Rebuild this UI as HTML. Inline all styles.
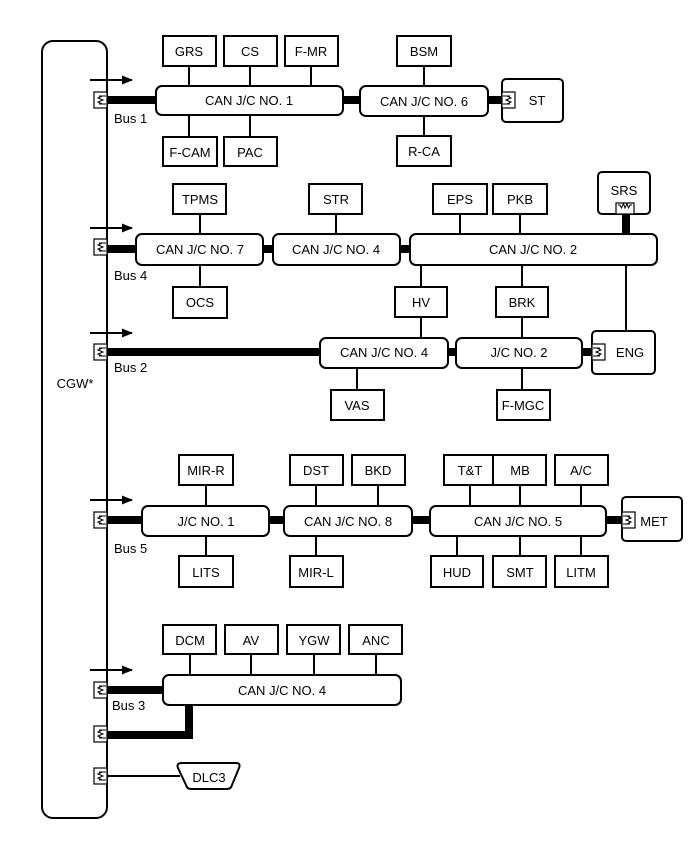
<!DOCTYPE html>
<html><head><meta charset="utf-8"><style>
html,body{margin:0;padding:0;background:#fff;width:688px;height:852px;overflow:hidden}
text{font-family:"Liberation Sans",Arial,sans-serif;font-size:13px;fill:#000}
</style></head><body>
<svg width="688" height="852" viewBox="0 0 688 852" xmlns="http://www.w3.org/2000/svg">
<defs>
<g id="res"><rect x="0" y="-8" width="13" height="16" fill="#fff" stroke="#000" stroke-width="1.2"/><path d="M12,-4 L5,-4 M8,-4 L4,-2 L9,0 L4,2 L8,4 M12,4 L5,4" fill="none" stroke="#000" stroke-width="1"/></g>
<marker id="ah" markerWidth="11" markerHeight="9" refX="10" refY="4.5" orient="auto" markerUnits="userSpaceOnUse"><path d="M0,0 L11,4.5 L0,9 z" fill="#000"/></marker>
</defs>
<g fill="none" stroke="#000" stroke-width="2">
<rect x="42" y="41" width="65" height="777" rx="11"/>
<g stroke-width="2">
<path d="M189,66V86 M250,66V86 M311,66V86 M189,115V137 M250,115V137 M424,66V86 M424,116V136"/>
<path d="M200,214V234 M336,214V234 M200,265V287 M460,214V235 M520,214V235 M421,265V338 M522,265V338 M626,265V332 M357,368V390 M522,368V390"/>
<path d="M206,485V506 M206,536V556 M316,485V506 M378,485V506 M316,536V556 M470,485V506 M520,485V506 M581,485V506 M457,536V556 M520,536V556 M581,536V556"/>
<path d="M190,654V675 M251,654V675 M314,654V675 M376,654V675"/>
<path d="M107,776H180"/>
</g>
<g stroke-width="8">
<path d="M107,100H156 M343,100H360 M488,100H502"/>
<path d="M107,249H136 M263,249H273 M400,249H410 M626,214V235"/>
<path d="M107,352H320 M448,352H456 M582,352H592"/>
<path d="M107,520H142 M269,520H284 M412,520H430 M606,520H622"/>
<path d="M107,690H163 M107,735H189V705"/>
</g>
<g stroke-width="2">
<path d="M90,80H132" marker-end="url(#ah)"/>
<path d="M90,228H132" marker-end="url(#ah)"/>
<path d="M90,333H132" marker-end="url(#ah)"/>
<path d="M90,500H132" marker-end="url(#ah)"/>
<path d="M90,670H132" marker-end="url(#ah)"/>
</g>
<g fill="#fff">
<rect x="156" y="86" width="187" height="29" rx="6"/>
<rect x="360" y="86" width="128" height="30" rx="6"/>
<rect x="136" y="234" width="127" height="31" rx="6"/>
<rect x="273" y="234" width="127" height="31" rx="6"/>
<rect x="410" y="234" width="247" height="31" rx="6"/>
<rect x="320" y="338" width="128" height="30" rx="6"/>
<rect x="456" y="338" width="126" height="30" rx="6"/>
<rect x="142" y="506" width="127" height="30" rx="6"/>
<rect x="284" y="506" width="128" height="30" rx="6"/>
<rect x="430" y="506" width="176" height="30" rx="6"/>
<rect x="163" y="675" width="238" height="30" rx="6"/>
<rect x="163" y="36" width="53" height="30"/><rect x="224" y="36" width="53" height="30"/><rect x="285" y="36" width="53" height="30"/>
<rect x="163" y="137" width="54" height="29"/><rect x="224" y="137" width="53" height="29"/>
<rect x="397" y="36" width="54" height="30"/><rect x="397" y="136" width="54" height="30"/>
<rect x="502" y="79" width="61" height="43" rx="4"/>
<rect x="173" y="184" width="53" height="30"/><rect x="309" y="184" width="53" height="30"/>
<rect x="433" y="184" width="54" height="30"/><rect x="493" y="184" width="54" height="30"/>
<rect x="598" y="172" width="52" height="42" rx="4"/>
<rect x="173" y="287" width="54" height="31"/>
<rect x="395" y="287" width="52" height="30"/><rect x="496" y="287" width="52" height="30"/>
<rect x="592" y="331" width="63" height="43" rx="4"/>
<rect x="331" y="390" width="53" height="30"/><rect x="497" y="390" width="53" height="30"/>
<rect x="179" y="455" width="54" height="30"/><rect x="290" y="455" width="53" height="30"/><rect x="352" y="455" width="53" height="30"/>
<rect x="444" y="455" width="52" height="30"/><rect x="493" y="455" width="53" height="30"/><rect x="555" y="455" width="53" height="30"/>
<rect x="179" y="556" width="54" height="31"/><rect x="290" y="556" width="53" height="31"/>
<rect x="431" y="556" width="52" height="31"/><rect x="493" y="556" width="53" height="31"/><rect x="555" y="556" width="53" height="31"/>
<rect x="622" y="497" width="60" height="44" rx="4"/>
<rect x="163" y="625" width="53" height="29"/><rect x="225" y="625" width="53" height="29"/><rect x="287" y="625" width="53" height="29"/><rect x="349" y="625" width="53" height="29"/>
<path d="M182,763H236Q241,763 239,768L232,785Q231,789 227,789H191Q187,789 186,785L178,768Q176,763 182,763Z"/>
</g>
</g>
<use href="#res" x="94" y="100"/>
<use href="#res" x="94" y="247"/>
<use href="#res" x="94" y="352"/>
<use href="#res" x="94" y="520"/>
<use href="#res" x="94" y="690"/>
<use href="#res" x="94" y="734"/>
<use href="#res" x="94" y="776"/>
<g transform="translate(515,100) scale(-1,1)"><use href="#res"/></g>
<g transform="translate(605,352) scale(-1,1)"><use href="#res"/></g>
<g transform="translate(635,520) scale(-1,1)"><use href="#res"/></g>
<rect x="616" y="203" width="18" height="11" fill="#fff" stroke="#000" stroke-width="1.2"/>
<path d="M618,205 L620,205 L621.5,208 L623.5,203.5 L625,208 L627,203.5 L628.5,208 L630,205 L632,205" fill="none" stroke="#000" stroke-width="1"/>
<g text-anchor="middle">
<text x="249" y="105">CAN J/C NO. 1</text><text x="424" y="106">CAN J/C NO. 6</text>
<text x="189" y="56">GRS</text><text x="250" y="56">CS</text><text x="311" y="56">F-MR</text>
<text x="190" y="157">F-CAM</text><text x="250" y="157">PAC</text>
<text x="424" y="56">BSM</text><text x="424" y="156">R-CA</text>
<text x="537" y="105">ST</text>
<text x="200" y="254">CAN J/C NO. 7</text><text x="336" y="254">CAN J/C NO. 4</text><text x="533" y="254">CAN J/C NO. 2</text>
<text x="200" y="204">TPMS</text><text x="336" y="204">STR</text><text x="460" y="204">EPS</text><text x="520" y="204">PKB</text>
<text x="624" y="195">SRS</text>
<text x="200" y="307">OCS</text><text x="421" y="307">HV</text><text x="522" y="307">BRK</text>
<text x="384" y="357">CAN J/C NO. 4</text><text x="519" y="357">J/C NO. 2</text><text x="630" y="357">ENG</text>
<text x="357" y="410">VAS</text><text x="523" y="410">F-MGC</text>
<text x="206" y="475">MIR-R</text><text x="316" y="475">DST</text><text x="378" y="475">BKD</text>
<text x="470" y="475">T&amp;T</text><text x="520" y="475">MB</text><text x="581" y="475">A/C</text>
<text x="206" y="526">J/C NO. 1</text><text x="348" y="526">CAN J/C NO. 8</text><text x="518" y="526">CAN J/C NO. 5</text>
<text x="654" y="526">MET</text>
<text x="206" y="577">LITS</text><text x="316" y="577">MIR-L</text>
<text x="457" y="577">HUD</text><text x="520" y="577">SMT</text><text x="581" y="577">LITM</text>
<text x="190" y="645">DCM</text><text x="251" y="645">AV</text><text x="314" y="645">YGW</text><text x="376" y="645">ANC</text>
<text x="282" y="695">CAN J/C NO. 4</text>
<text x="209" y="782">DLC3</text>
<text x="75" y="388">CGW*</text>
</g>
<text x="114" y="123">Bus 1</text>
<text x="114" y="280">Bus 4</text>
<text x="114" y="372">Bus 2</text>
<text x="114" y="553">Bus 5</text>
<text x="112" y="710">Bus 3</text>
</svg>
</body></html>
